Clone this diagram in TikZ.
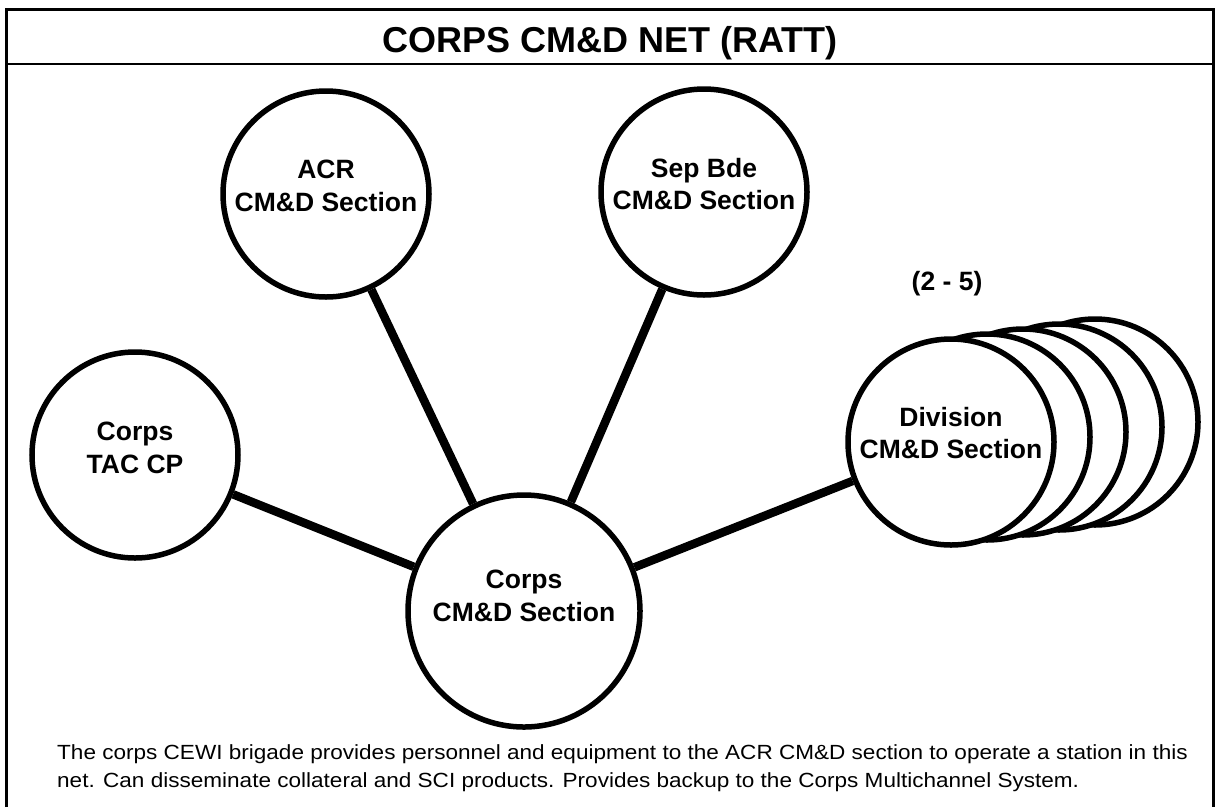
\documentclass[tikz,border=0pt]{standalone}
\usepackage{fontspec}
\setmainfont{Liberation Sans}
\begin{document}
\begin{tikzpicture}[x=1pt,y=-1pt,
  station/.style={circle, draw, line width=5.5pt, fill=white, inner sep=0pt, minimum size=206pt},
  stationtext/.style={font=\bfseries\fontsize{26.5}{32.5}\selectfont, align=center, inner sep=0pt},
  link/.style={line width=8.5pt},
  frame/.style={line width=3pt},
  bodytext/.style={font=\fontsize{20.5}{28}\selectfont, anchor=base west, inner sep=0pt}]
\useasboundingbox (0,0) rectangle (1217,807);

% outer frame (open at the bottom) and title band
\draw[frame] (6,807) -- (6,9) -- (1213,9) -- (1213,807);
\draw[line width=2.7pt] (6,64) -- (1213,64);
\node[font=\bfseries\fontsize{36}{44}\selectfont, anchor=base, inner sep=0pt] (title) at (610,52) {CORPS CM\&D NET (RATT)};

% stations
\node[station, label={[stationtext, yshift=8pt]center:ACR\\CM\&D Section}] (acr) at (326,194) {};
\node[station, label={[stationtext, yshift=8pt]center:Sep Bde\\CM\&D Section}] (sep) at (704,192) {};
\node[station, label={[stationtext, yshift=7pt]center:Corps\\TAC CP}] (tac) at (135,455) {};
\node[station, minimum size=232pt, label={[stationtext, yshift=15pt]center:Corps\\CM\&D Section}] (cmd) at (524,611) {};

% stack of division sections, back to front
\foreach \i in {4,3,2,1}
  \node[station] (div\i) at ({951+36*\i},{442-5*\i}) {};
\node[station, label={[stationtext, yshift=9pt]center:Division\\CM\&D Section}] (div) at (951,442) {};
\node[stationtext] (count) at (947,284) {(2 - 5)};

% net links
\draw[link] (tac) -- (cmd);
\draw[link] (acr) -- (cmd);
\draw[link] (sep) -- (cmd);
\draw[link] (div) -- (cmd);

% note
\node[bodytext] (note1) at (57,759) {\scalebox{1.1}[1]{The corps CEWI brigade provides personnel and equipment to the ACR CM\&D section to operate a station in this}};
\node[bodytext] (note2) at (57,787) {\scalebox{1.1}[1]{net. Can disseminate collateral and SCI products. Provides backup to the Corps Multichannel System.}};
\end{tikzpicture}
\end{document}
